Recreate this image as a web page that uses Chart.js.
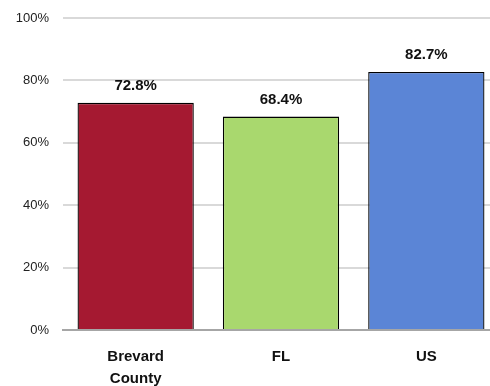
<!DOCTYPE html>
<html>
<head>
<meta charset="utf-8">
<script src="https://cdn.jsdelivr.net/npm/chart.js@4"></script>
<style>
  html, body { margin: 0; padding: 0; background: #fff; overflow: hidden; }
  #wrap { width: 499px; height: 386px; }
</style>
</head>
<body>
<div id="wrap"><canvas id="chart"></canvas></div>
<script>
const categories = [["Brevard", "County"], "FL", "US"];
const values = [72.8, 68.4, 82.7];
const barColors = ["#A51931", "#A9D86E", "#5B85D6"];
const yTicks = [0, 20, 40, 60, 80, 100];

// draw the value above each bar
const valueLabels = {
  id: "valueLabels",
  afterDatasetsDraw(chart) {
    const ctx = chart.ctx;
    const meta = chart.getDatasetMeta(0);
    ctx.save();
    ctx.font = "bold 15px 'Liberation Sans', Arial, sans-serif";
    ctx.fillStyle = "#111";
    ctx.textAlign = "center";
    ctx.textBaseline = "middle";
    meta.data.forEach((bar, i) => {
      ctx.fillText(values[i].toFixed(1) + "%", bar.x, bar.y - 17);
    });
    ctx.restore();
  }
};

new Chart(document.getElementById("chart"), {
  type: "bar",
  data: {
    labels: categories,
    datasets: [{
      data: values,
      backgroundColor: barColors,
      borderColor: "#000",
      borderWidth: 1.3,
      borderSkipped: "bottom",
      categoryPercentage: 1,
      barPercentage: 0.8,
    }],
  },
  options: {
    responsive: true,
    maintainAspectRatio: false,
    animation: false,
    layout: { padding: { top: 18, left: 0, right: 0, bottom: 0 } },
    plugins: {
      legend: { display: false },
      tooltip: { enabled: false },
    },
    scales: {
      x: {
        grid: { display: false, drawTicks: false },
        border: { color: "#a6a6a6", width: 2 },
        ticks: {
          color: "#111",
          padding: 16,
          font: { family: "'Liberation Sans', Arial, sans-serif", size: 15, weight: "bold", lineHeight: 1.45 },
        },
        afterFit(scale) { scale.height = 56; },
      },
      y: {
        min: 0,
        max: 100,
        afterBuildTicks(scale) { scale.ticks = yTicks.map(v => ({ value: v })); },
        grid: { color: "#d9d9d9", lineWidth: 2, drawTicks: false },
        border: { display: false },
        ticks: {
          color: "#222",
          padding: 14,
          font: { family: "'Liberation Sans', Arial, sans-serif", size: 13 },
          callback: v => v + "%",
        },
        afterFit(scale) {
          scale.width = 63;
          scale.paddingTop = 0;
          scale.paddingBottom = 0;
        },
      },
    },
  },
  plugins: [valueLabels],
});
</script>
</body>
</html>
